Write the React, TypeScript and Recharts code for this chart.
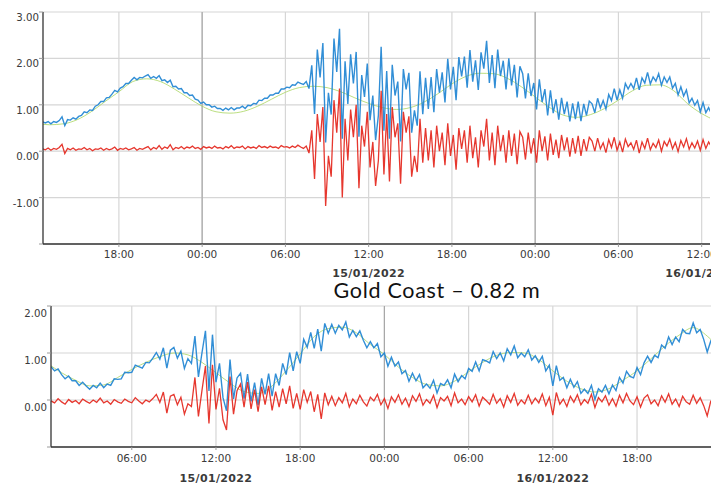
import React from 'react';
import { LineChart, Line, XAxis, YAxis, CartesianGrid } from 'recharts';

// ===== Top panel (time in hours counted from 14/01/2022 00:00) =====
const topStartHour = 12.5;
const topStepHours = 0.2;
const topObservedCm = [
  63, 61, 64, 59, 64, 62, 66, 74, 55, 68, 67, 72, 69, 75, 77, 85, 83, 89, 88, 97,
  100, 107, 107, 115, 116, 123, 131, 128, 136, 139, 146, 146, 153, 159, 154, 159, 158, 162, 165, 157,
  161, 157, 163, 152, 154, 148, 153, 139, 140, 134, 135, 126, 126, 120, 121, 112, 110, 103, 106, 100,
  100, 95, 97, 92, 92, 88, 93, 89, 94, 89, 93, 93, 97, 92, 99, 98, 103, 102, 110, 109,
  114, 114, 121, 121, 125, 125, 134, 134, 138, 137, 143, 142, 149, 146, 144, 150, 135,
  185, 80, 219, 159, 233, 19, 126, 79, 243, 171, 264, 27, 194, 102, 209, 146, 214, 31, 164, 117,
  189, 67, 120, 24, 77, 225, 44, 173, 27, 186, 120, 150, 21, 177, 133, 169, 40, 88, 55, 172, 80,
  158, 91, 160, 84, 177, 126, 170, 105, 199, 133, 182, 110, 203, 161, 204, 137, 218, 150, 196, 132,
  213, 178, 238, 147, 207, 136, 219, 162, 195, 133, 200, 142, 186, 116, 183,
  167, 114, 168, 119, 147, 90, 155, 106, 134, 77, 131, 82, 112, 68, 115, 80, 107, 64, 103, 69,
  107, 65, 102, 77, 108,
  102, 83, 114, 93, 109, 91, 122, 109, 135, 110, 132, 114, 146, 134, 146, 135, 158, 132, 158, 147,
  170, 145, 160, 151, 167, 142, 160, 148, 160, 136, 146, 121, 139, 119, 132, 104, 114, 99, 109, 85,
  105, 83, 94, 81,
];
const topResidualCm = [
  5, 3, 7, 2, 6, 4, 8, 15, -5, 6, 3, 7, 2, 5, 4, 8, 3, 6, 1, 5,
  4, 7, 2, 6, 3, 5, 9, 2, 6, 4, 7, 3, 5, 8, 2, 6, 4, 7, 10, 3,
  8, 5, 12, 4, 9, 6, 14, 3, 8, 6, 10, 5, 9, 7, 11, 6, 8, 4, 10, 7,
  9, 6, 11, 7, 8, 5, 10, 7, 12, 6, 9, 8, 11, 5, 10, 7, 9, 6, 12, 8,
  10, 7, 11, 8, 9, 6, 12, 9, 10, 7, 11, 8, 13, 9, 6, 11, -4,
  45, -60, 80, 20, 95, -118, -10, -55, 110, 40, 135, -100, 70, -20, 90, 30, 100, -80, 55, 10,
  85, -35, 20, -75, -20, 130, -50, 80, -65, 95, 30, 60, -70, 85, 40, 75, -55, -10, -45, 70, -25,
  50, -20, 45, -35, 55, 0, 40, -30, 60, -10, 35, -40, 50, 5, 45, -25, 55, -15, 30, -35,
  45, 10, 70, -20, 40, -30, 55, 0, 35, -25, 45, -10, 38, -28, 42,
  30, -18, 40, -5, 28, -25, 45, 0, 32, -20, 38, -8, 25, -15, 35, 2, 30, -12, 28, -5,
  33, -10, 26, 0, 30,
  22, 0, 28, 5, 18, -3, 25, 8, 30, 2, 20, -2, 26, 10, 18, 4, 24, -4, 20, 6,
  28, 3, 17, 8, 24, 0, 21, 11, 26, 5, 19, -1, 23, 9, 27, 4, 18, 7, 22, 2,
  25, 6, 20, 10,
];
const topPredictedStartHour = 12;
const topPredictedCm = [
  60, 57, 59, 68, 85, 107, 128, 150, 156, 150, 134, 115, 97, 85, 82, 86, 97, 112, 127, 137,
  140, 137, 128, 115, 103, 94, 90, 94, 106, 124, 145, 161, 168, 167, 157, 139, 117, 95, 78, 73,
  79, 92, 110, 130, 142, 143, 130, 102, 81, 66,
];
const topXDomain = [12.53, 60.6];
const topXTicks = [18, 24, 30, 36, 42, 48, 54, 60];
const topXTickLabels = ['18:00', '00:00', '06:00', '12:00', '18:00', '00:00', '06:00', '12:00'];
const topDateTicks = [36, 60];
const topDateLabels = ['15/01/2022', '16/01/2022'];
const topMidnights = [24, 48];
const topYTicks = [-2, -1, 0, 1, 2, 3];
const topYTickLabels = ['', '-1.00', '0.00', '1.00', '2.00', '3.00'];

// ===== Bottom panel: Gold Coast (hours counted from 14/01/2022 00:00) =====
const bottomStartHour = 24.25;
const bottomStepHours = 0.25;
const bottomObservedCm = [
  71, 62, 66, 54, 45, 51, 41, 41, 31, 38, 30, 23, 31, 26, 36, 26, 34, 31, 45, 44,
  45, 59, 58, 59, 74, 71, 68, 80, 79, 89,
  101, 87, 111, 68, 106, 112, 89, 104, 67, 88, 78, 136, 49, 100, 147, 19, 139, 38, 78, 5,
  -23, 86, 2, 47, 57, 3, 55, -3, 37, -11, 46, 12, 56, 8, 56, 31, 78, 54, 101, 62,
  103, 78, 129, 112, 144, 110, 151, 104, 163, 142,
  161, 142, 159, 149, 166, 134, 148, 135, 147, 127, 111, 124, 111, 120, 92, 100, 72, 91, 72, 81,
  56, 63, 40, 57, 41, 54, 26, 34, 25, 42, 15, 35, 31, 43, 26, 55, 39, 52, 45, 67,
  61, 81, 62, 86, 83, 79, 103, 88, 100, 83, 109, 96, 115, 90, 100, 92, 107, 85, 94, 80,
  93, 62, 74, 30, 73, 42, 48, 26, 44, 27, 39, 14, 23, 14, 31, 1, 24, 17, 31, 13,
  32, 20, 48, 36, 61, 50, 47, 69, 54, 79, 93, 80, 95, 90, 117, 110, 134, 118, 134, 124,
  150, 142, 141, 164, 143, 150, 129, 102, 125, 113,
];
const bottomResidualCm = [
  -2, -6, 3, -4, -9, 1, -5, -1, -8, 2, -3, -7, 0, -5, 4, -6, -2, -9, 1, -4,
  -7, 2, -3, -6, 5, -2, -8, 0, -4, 3,
  12, -5, 17, -28, 8, 12, -10, 6, -30, -8, -14, 48, -35, 20, 72, -50, 75, -20, 25, -42,
  -64, 50, -30, 20, 34, -15, 38, -19, 22, -25, 28, -10, 30, -22, 18, -15, 24, -8, 30, -18,
  14, -20, 22, -5, 18, -25, 12, -40, 15, -10,
  8, -12, 5, -6, 14, -15, 2, -8, 10, -4, -13, 6, -2, 12, -10, 3, -18, 7, -5, 11,
  -9, 4, -14, 9, -3, 13, -11, 1, -7, 10, -16, 5, -2, 8, -12, 15, -6, 2, -10, 7,
  -4, 11, -13, 6, -1, -9, 12, -7, 3, -15, 9, -5, 14, -11, 0, -8, 10, -8, 4, -6,
  13, -12, 6, -32, 16, -9, 2, -14, 8, -5, 11, -10, 1, -7, 12, -16, 5, -4, 9, -11,
  3, -13, 10, -6, 14, -2, -10, 7, -15, 4, 11, -8, 0, -12, 9, -5, 13, -9, 2, -14,
  8, -4, -9, 10, -7, 5, -12, -34, -3, -8,
];
const bottomPredictedStartHour = 24;
const bottomPredictedCm = [
  78, 58, 42, 30, 32, 48, 65, 80, 92, 100, 96, 80, 58, 36, 18, 14, 30, 62, 98, 135,
  152, 155, 143, 118, 97, 70, 48, 33, 30, 40, 60, 80, 95, 101, 100, 86, 62, 40, 24, 17,
  24, 42, 62, 88, 115, 138, 154, 136, 105,
];
const bottomXDomain = [24.245, 71.27];
const bottomXTicks = [30, 36, 42, 48, 54, 60, 66];
const bottomXTickLabels = ['06:00', '12:00', '18:00', '00:00', '06:00', '12:00', '18:00'];
const bottomDateTicks = [36, 60];
const bottomDateLabels = ['15/01/2022', '16/01/2022'];
const bottomMidnights = [48];
const bottomYTicks = [-1, 0, 1, 2];
const bottomYTickLabels = ['', '0.00', '1.00', '2.00'];

const titleText = 'Gold Coast \u2013 0.82 m';

const BLUE = '#1f84d2';
const RED = '#e4261c';
const GREEN = '#a6d45a';
const TEXT = '#3a3a3a';
const FONT = '"DejaVu Sans", Verdana, sans-serif';

function buildRows(start: number, step: number, obs: number[], res: number[]) {
  return obs.map((v, i) => ({
    h: Math.round((start + i * step) * 1000) / 1000,
    obs: v / 100,
    res: res[i] / 100,
  }));
}
function buildPred(start: number, vals: number[]) {
  return vals.map((v, i) => ({ h: start + i, pred: v / 100 }));
}

const topRows = buildRows(topStartHour, topStepHours, topObservedCm, topResidualCm);
const topPredRows = buildPred(topPredictedStartHour, topPredictedCm);
const bottomRows = buildRows(bottomStartHour, bottomStepHours, bottomObservedCm, bottomResidualCm);
const bottomPredRows = buildPred(bottomPredictedStartHour, bottomPredictedCm);

function makeXTick(ticks: number[], labels: string[], dTicks: number[], dLabels: string[], labelDy: number, dateDy: number) {
  return (props: any) => {
    const { x, y, payload } = props;
    const idx = ticks.indexOf(payload.value);
    const di = dTicks.indexOf(payload.value);
    return (
      <g>
        <text x={x} y={y + labelDy} textAnchor="middle" fontFamily={FONT} fontSize={10.5} fill={TEXT}>
          {idx >= 0 ? labels[idx] : ''}
        </text>
        {di >= 0 ? (
          <text x={x} y={y + dateDy} textAnchor="middle" fontFamily={FONT} fontWeight="bold" fontSize={11} letterSpacing={0.35} fill={TEXT}>
            {dLabels[di]}
          </text>
        ) : null}
      </g>
    );
  };
}

function makeYTick(ticks: number[], labels: string[], dy: number) {
  return (props: any) => {
    const { x, y, payload } = props;
    const idx = ticks.indexOf(payload.value);
    const label = idx >= 0 ? labels[idx] : '';
    return (
      <g>
        <text x={x} y={y + dy} textAnchor="end" fontFamily={FONT} fontSize={10.2} fill={TEXT}>
          {label}
        </text>
      </g>
    );
  };
}

function Panel(p: any) {
  return (
    <LineChart width={p.width} height={p.height} data={p.rows} margin={p.margin}>
      <CartesianGrid stroke="#d6d6d6" strokeWidth={1.2} verticalValues={p.xTicks} horizontalValues={p.yTicks} />
      <CartesianGrid stroke="#a8a8a8" strokeWidth={1.2} horizontal={false} verticalValues={p.midnights} />
      <XAxis
        dataKey="h"
        type="number"
        domain={p.xDomain}
        ticks={p.xTicks}
        interval={0}
        allowDataOverflow
        height={p.xAxisHeight}
        tickSize={3}
        tickMargin={0}
        tickLine={{ stroke: '#9a9a9a' }}
        axisLine={{ stroke: '#333', strokeWidth: 1.3 }}
        tick={makeXTick(p.xTicks, p.xTickLabels, p.dateTicks, p.dateLabels, p.labelDy, p.dateDy)}
      />
      <XAxis
        xAxisId="frameTop"
        dataKey="h"
        type="number"
        domain={p.xDomain}
        allowDataOverflow
        orientation="top"
        height={0}
        tick={false}
        tickLine={false}
        axisLine={{ stroke: '#333', strokeWidth: 1.3 }}
      />
      <YAxis
        type="number"
        domain={p.yDomain}
        ticks={p.yTicks}
        interval={0}
        allowDataOverflow
        width={p.yAxisWidth}
        tickSize={4}
        tickMargin={0}
        tickLine={{ stroke: '#9a9a9a' }}
        axisLine={{ stroke: '#333', strokeWidth: 1.3 }}
        tick={makeYTick(p.yTicks, p.yTickLabels, p.yDy)}
      />
      {p.rightFrame ? (
        <YAxis
          yAxisId="frameRight"
          orientation="right"
          type="number"
          domain={p.yDomain}
          width={0}
          tick={false}
          tickLine={false}
          axisLine={{ stroke: '#555', strokeWidth: 1.2 }}
        />
      ) : null}
      <Line data={p.predRows} dataKey="pred" type="monotone" stroke={GREEN} strokeWidth={0.9} strokeOpacity={0.85} dot={false} activeDot={false} isAnimationActive={false} />
      <Line dataKey="obs" type="linear" stroke={BLUE} strokeWidth={1.4} strokeOpacity={0.92} dot={false} activeDot={false} isAnimationActive={false} />
      <Line dataKey="res" type="linear" stroke={RED} strokeWidth={1.3} strokeOpacity={0.92} dot={false} activeDot={false} isAnimationActive={false} />
    </LineChart>
  );
}

export default function App() {
  return (
    <div style={{ position: 'absolute', left: 0, top: 0, width: 711, height: 483, overflow: 'hidden', background: '#fff' }}>
      <div style={{ position: 'absolute', left: 0, top: 0 }}>
        <Panel
          width={711}
          height={284}
          rows={topRows}
          predRows={topPredRows}
          margin={{ top: 12, right: 1, bottom: 0, left: 0 }}
          xDomain={topXDomain}
          xTicks={topXTicks}
          xTickLabels={topXTickLabels}
          dateTicks={topDateTicks}
          dateLabels={topDateLabels}
          midnights={topMidnights}
          yDomain={[-2, 3]}
          yTicks={topYTicks}
          yTickLabels={topYTickLabels}
          xAxisHeight={40}
          yAxisWidth={43}
          labelDy={11}
          dateDy={29.5}
          yDy={9}
          rightFrame
        />
      </div>
      <div style={{ position: 'absolute', left: 0, top: 290 }}>
        <Panel
          width={711}
          height={193}
          rows={bottomRows}
          predRows={bottomPredRows}
          margin={{ top: 16, right: 0, bottom: 0, left: 0 }}
          xDomain={bottomXDomain}
          xTicks={bottomXTicks}
          xTickLabels={bottomXTickLabels}
          dateTicks={bottomDateTicks}
          dateLabels={bottomDateLabels}
          midnights={bottomMidnights}
          yDomain={[-1, 2]}
          yTicks={bottomYTicks}
          yTickLabels={bottomYTickLabels}
          xAxisHeight={36}
          yAxisWidth={51}
          labelDy={12}
          dateDy={31.5}
          yDy={10.5}
          rightFrame={false}
        />
      </div>
      <svg width={711} height={30} style={{ position: 'absolute', left: 0, top: 275 }}>
        <text x={437} y={22.5} textAnchor="middle" fontFamily="Lato, 'Open Sans', sans-serif" fontSize={21.5} letterSpacing={0.7} fill="#111">
          {titleText}
        </text>
      </svg>
    </div>
  );
}
